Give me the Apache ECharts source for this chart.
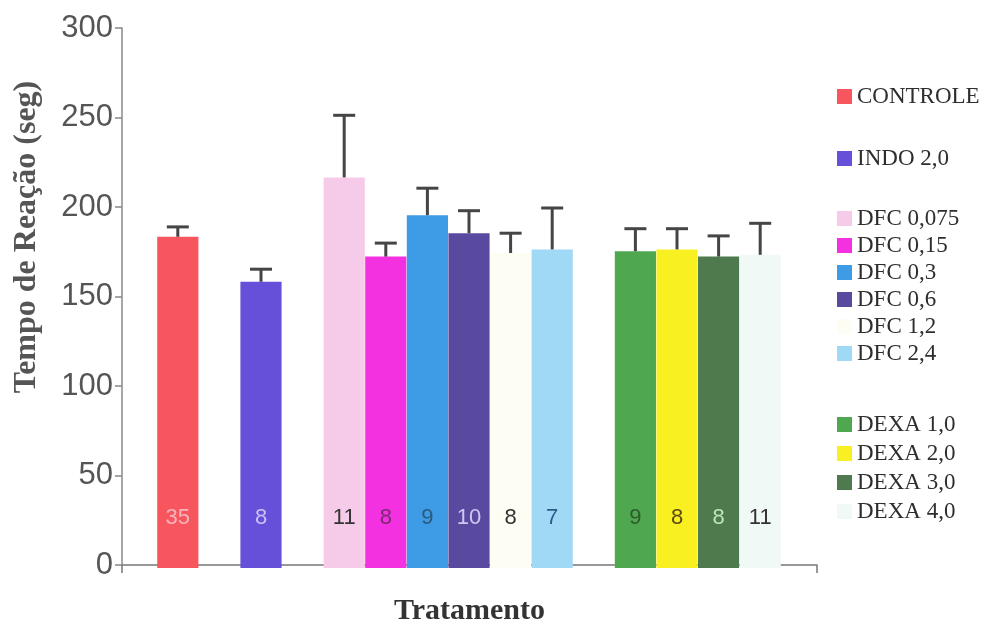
<!DOCTYPE html>
<html>
<head>
<meta charset="utf-8">
<script src="https://cdn.jsdelivr.net/npm/echarts@6/dist/echarts.min.js"></script>
<style>
html,body{margin:0;padding:0;background:#fff;}
#chart{width:985px;height:631px;}
</style>
</head>
<body>
<div id="chart"></div>
<script>
// ---- data ----
const names = ['CONTROLE','INDO 2,0','DFC 0,075','DFC 0,15','DFC 0,3','DFC 0,6','DFC 1,2','DFC 2,4','DEXA 1,0','DEXA 2,0','DEXA 3,0','DEXA 4,0'];
const categories = ['CONTROLE','','INDO 2,0','','DFC 0,075','DFC 0,15','DFC 0,3','DFC 0,6','DFC 1,2','DFC 2,4','','DEXA 1,0','DEXA 2,0','DEXA 3,0','DEXA 4,0'];
const means = [184, 159, 217, 173, 196, 186, 175, 177, 176, 177, 173, 174];
const errors = [5.5, 7, 34.5, 7.5, 15, 12.5, 11, 23, 12.5, 11.5, 11.5, 17.5];
const nLabels = [35, 8, 11, 8, 9, 10, 8, 7, 9, 8, 8, 11];
const yTicks = [0, 50, 100, 150, 200, 250, 300];
const legendGroups = [['CONTROLE'], ['INDO 2,0'], ['DFC 0,075','DFC 0,15','DFC 0,3','DFC 0,6','DFC 1,2','DFC 2,4'], ['DEXA 1,0','DEXA 2,0','DEXA 3,0','DEXA 4,0']];

// ---- styles ----
const colors = ['#f7565f','#6650d9','#f5cbe9','#f431e0','#3e9be6','#5a4a9f','#fdfdf4','#a0d9f5','#4fa84f','#f8f020','#4e7a4e','#f1f9f6'];
const labelColors = ['#f6b3bb','#cbc0f6','#333333','#7a2a70','#2a5a7c','#cfc6f2','#333333','#2a5a8a','#2f5a2f','#5a4a10','#bfe3bf','#333333'];

const chart = echarts.init(document.getElementById('chart'));

const barSeries = names.map((nm, i) => ({
  name: nm,
  type: 'bar',
  xAxisIndex: 1,
  yAxisIndex: 1,
  stack: 'all',
  barCategoryGap: '1%',
  itemStyle: { color: colors[i] },
  label: {
    show: true,
    position: 'insideBottom',
    distance: 39,
    fontFamily: 'Liberation Sans',
    fontSize: 22,
    color: labelColors[i],
    formatter: () => String(nLabels[i])
  },
  emphasis: { disabled: true },
  data: categories.map(c => (c === nm ? means[i] : null))
}));

const errSeries = {
  type: 'custom',
  xAxisIndex: 1,
  yAxisIndex: 1,
  z: 5,
  silent: true,
  data: names.map((nm, i) => [categories.indexOf(nm), means[i], means[i] + errors[i]]),
  renderItem: function (params, api) {
    const x = api.value(0);
    const lo = api.coord([x, api.value(1)]);
    const hi = api.coord([x, api.value(2)]);
    const hw = 11;
    const st = { stroke: '#454545', lineWidth: 3 };
    return {
      type: 'group',
      children: [
        { type: 'line', shape: { x1: lo[0], y1: lo[1], x2: hi[0], y2: hi[1] }, style: st },
        { type: 'line', shape: { x1: hi[0] - hw, y1: hi[1], x2: hi[0] + hw, y2: hi[1] }, style: st }
      ]
    };
  }
};

const legendTops = [80, 142, 202, 408];
const legendGaps = [4, 4, 4, 6];
const legends = legendGroups.map((g, k) => ({
  data: g,
  orient: 'vertical',
  left: 832,
  top: legendTops[k],
  itemWidth: 15,
  itemHeight: 15,
  itemGap: legendGaps[k],
  icon: 'rect',
  selectedMode: false,
  textStyle: { fontFamily: 'Liberation Serif', fontSize: 23, color: '#2e2e2e' }
}));

chart.setOption({
  backgroundColor: '#ffffff',
  animation: false,
  legend: legends,
  grid: [
    { left: 122, right: 168, top: 28, bottom: 63 },
    { left: 157, right: 204, top: 28, bottom: 63 }
  ],
  xAxis: [
    {
      type: 'category', gridIndex: 0, data: [''],
      axisLine: { show: true, lineStyle: { color: '#777', width: 1.5 } },
      axisTick: { show: true, length: 8, lineStyle: { color: '#777', width: 1.5 } },
      axisLabel: { show: false },
      name: 'Tratamento', nameLocation: 'middle', nameGap: 31,
      nameTextStyle: { fontFamily: 'Liberation Serif', fontWeight: 'bold', fontSize: 30, color: '#333' }
    },
    { type: 'category', gridIndex: 1, data: categories, show: false }
  ],
  yAxis: [
    {
      type: 'value', gridIndex: 0, min: yTicks[0], max: yTicks[yTicks.length - 1], interval: 50,
      axisLine: { show: true, lineStyle: { color: '#888', width: 1.5 } },
      axisTick: { show: true, length: 7, lineStyle: { color: '#888', width: 1.5 } },
      axisLabel: { fontFamily: 'Liberation Sans', fontSize: 31, color: '#555', margin: 9 },
      splitLine: { show: false }
    },
    { type: 'value', gridIndex: 1, min: 0, max: 300, show: false }
  ],
  graphic: [{
    type: 'text',
    x: 27, y: 237,
    rotation: Math.PI / 2,
    style: {
      text: 'Tempo de Reação (seg)',
      fontFamily: 'Liberation Serif', fontWeight: 'bold', fontSize: 32,
      fill: '#555', align: 'center', verticalAlign: 'middle'
    }
  }],
  series: barSeries.concat([errSeries])
});
</script>
</body>
</html>
